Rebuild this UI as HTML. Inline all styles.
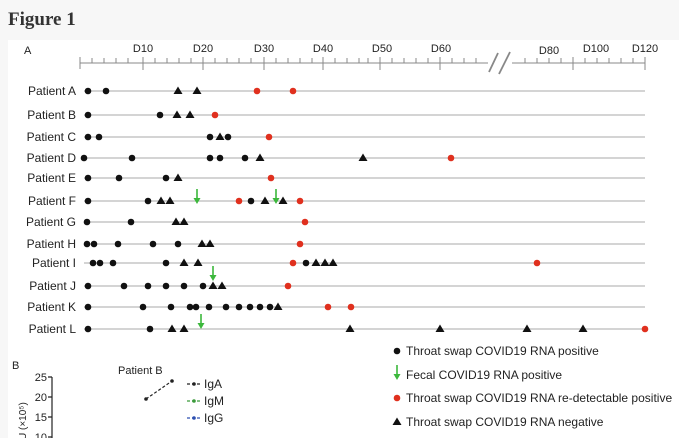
<!DOCTYPE html>
<html><head><meta charset="utf-8"><style>
html,body{margin:0;padding:0;background:#f7f7f7;}
svg{display:block;font-family:"Liberation Sans",Arial,sans-serif;}
</style></head><body>
<svg width="679" height="438" viewBox="0 0 679 438" xmlns="http://www.w3.org/2000/svg">
<defs>
<g id="c"><circle r="3.3" fill="#111"/></g>
<g id="r"><circle r="3.3" fill="#e0301e"/></g>
<g id="t"><polygon points="0,-4.5 4.5,3 -4.5,3" fill="#111"/></g>
<g id="a"><line x1="0" y1="-16" x2="0" y2="-3" stroke="#3cb83c" stroke-width="1.6"/><polygon points="-3.5,-7 3.5,-7 0,-1" fill="#3cb83c"/></g>
</defs>
<text x="8" y="25" font-family="Liberation Serif,serif" font-weight="bold" font-size="19" fill="#333">Figure 1</text>
<rect x="8" y="40" width="671" height="398" fill="#fff"/>
<text x="24" y="54" font-size="11" fill="#222">A</text>
<g font-size="11" fill="#222" text-anchor="middle">
<text x="143" y="52">D10</text><text x="203" y="52">D20</text><text x="264" y="52">D30</text><text x="323" y="52">D40</text><text x="382" y="52">D50</text><text x="441" y="52">D60</text><text x="549" y="54">D80</text><text x="596" y="52">D100</text><text x="645" y="52">D120</text>
</g>
<g stroke="#888" stroke-width="1">
<line x1="80" y1="63" x2="488" y2="63"/><line x1="512" y1="63" x2="645" y2="63"/>
<path d="M80,57V69 M143,57V70 M203,57V70 M264,57V70 M323,57V70 M380,57V70 M440,57V70 M573,57V70 M645,57V70"/>
<path d="M92,58V63 M104,58V63 M116,58V63 M128,58V63 M155,58V63 M167,58V63 M179,58V63 M191,58V63 M215,58V63 M227,58V63 M239,58V63 M251,58V63 M276,58V63 M288,58V63 M300,58V63 M312,58V63 M335,58V63 M347,58V63 M359,58V63 M368,58V63 M392,58V63 M404,58V63 M416,58V63 M428,58V63 M452,58V63 M464,58V63 M476,58V63 M525,58V63 M537,58V63 M549,58V63 M561,58V63 M585,58V63 M597,58V63 M609,58V63 M621,58V63 M633,58V63"/>
<line x1="489" y1="72" x2="498" y2="53" stroke-width="1.8"/><line x1="499" y1="74" x2="510" y2="52" stroke-width="1.8"/>
</g>
<g font-size="12" fill="#222" text-anchor="end">
<text x="76" y="95">Patient A</text><text x="76" y="119">Patient B</text><text x="76" y="141">Patient C</text><text x="76" y="162">Patient D</text><text x="76" y="182">Patient E</text><text x="76" y="205">Patient F</text><text x="76" y="226">Patient G</text><text x="76" y="248">Patient H</text><text x="76" y="267">Patient I</text><text x="76" y="290">Patient J</text><text x="76" y="311">Patient K</text><text x="76" y="333">Patient L</text>
</g>
<g stroke="#bbb" stroke-width="1.3">
<line x1="84" y1="91" x2="645" y2="91"/><line x1="84" y1="115" x2="645" y2="115"/><line x1="84" y1="137" x2="645" y2="137"/><line x1="84" y1="158" x2="645" y2="158"/><line x1="84" y1="178" x2="645" y2="178"/><line x1="84" y1="201" x2="645" y2="201"/><line x1="84" y1="222" x2="645" y2="222"/><line x1="84" y1="244" x2="645" y2="244"/><line x1="84" y1="263" x2="645" y2="263"/><line x1="84" y1="286" x2="645" y2="286"/><line x1="84" y1="307" x2="645" y2="307"/><line x1="84" y1="329" x2="645" y2="329"/>
</g>
<use href="#c" x="88" y="91"/><use href="#c" x="106" y="91"/><use href="#t" x="178" y="91"/><use href="#t" x="197" y="91"/><use href="#r" x="257" y="91"/><use href="#r" x="293" y="91"/>
<use href="#c" x="88" y="115"/><use href="#c" x="160" y="115"/><use href="#t" x="177" y="115"/><use href="#t" x="190" y="115"/><use href="#r" x="215" y="115"/>
<use href="#c" x="88" y="137"/><use href="#c" x="99" y="137"/><use href="#c" x="210" y="137"/><use href="#t" x="220" y="137"/><use href="#c" x="228" y="137"/><use href="#r" x="269" y="137"/>
<use href="#c" x="84" y="158"/><use href="#c" x="132" y="158"/><use href="#c" x="210" y="158"/><use href="#c" x="220" y="158"/><use href="#c" x="245" y="158"/><use href="#t" x="260" y="158"/><use href="#t" x="363" y="158"/><use href="#r" x="451" y="158"/>
<use href="#c" x="88" y="178"/><use href="#c" x="119" y="178"/><use href="#c" x="166" y="178"/><use href="#t" x="178" y="178"/><use href="#r" x="271" y="178"/>
<use href="#c" x="88" y="201"/><use href="#c" x="148" y="201"/><use href="#t" x="161" y="201"/><use href="#t" x="170" y="201"/><use href="#a" x="197" y="205"/><use href="#r" x="239" y="201"/><use href="#c" x="251" y="201"/><use href="#t" x="265" y="201"/><use href="#a" x="276" y="205"/><use href="#t" x="283" y="201"/><use href="#r" x="300" y="201"/>
<use href="#c" x="87" y="222"/><use href="#c" x="131" y="222"/><use href="#t" x="176" y="222"/><use href="#t" x="184" y="222"/><use href="#r" x="305" y="222"/>
<use href="#c" x="87" y="244"/><use href="#c" x="94" y="244"/><use href="#c" x="118" y="244"/><use href="#c" x="153" y="244"/><use href="#c" x="178" y="244"/><use href="#t" x="202" y="244"/><use href="#t" x="210" y="244"/><use href="#r" x="300" y="244"/>
<use href="#c" x="93" y="263"/><use href="#c" x="100" y="263"/><use href="#c" x="113" y="263"/><use href="#c" x="166" y="263"/><use href="#t" x="184" y="263"/><use href="#t" x="198" y="263"/><use href="#r" x="293" y="263"/><use href="#c" x="306" y="263"/><use href="#t" x="316" y="263"/><use href="#t" x="325" y="263"/><use href="#t" x="333" y="263"/><use href="#r" x="537" y="263"/>
<use href="#c" x="88" y="286"/><use href="#c" x="124" y="286"/><use href="#c" x="148" y="286"/><use href="#c" x="166" y="286"/><use href="#c" x="184" y="286"/><use href="#c" x="203" y="286"/><use href="#a" x="213" y="282"/><use href="#t" x="213" y="286"/><use href="#t" x="222" y="286"/><use href="#r" x="288" y="286"/>
<use href="#c" x="88" y="307"/><use href="#c" x="143" y="307"/><use href="#c" x="171" y="307"/><use href="#c" x="190" y="307"/><use href="#c" x="196" y="307"/><use href="#c" x="209" y="307"/><use href="#c" x="226" y="307"/><use href="#c" x="239" y="307"/><use href="#c" x="250" y="307"/><use href="#c" x="260" y="307"/><use href="#c" x="270" y="307"/><use href="#t" x="278" y="307"/><use href="#r" x="328" y="307"/><use href="#r" x="351" y="307"/>
<use href="#c" x="88" y="329"/><use href="#c" x="150" y="329"/><use href="#t" x="172" y="329"/><use href="#t" x="184" y="329"/><use href="#a" x="201" y="330"/><use href="#t" x="350" y="329"/><use href="#t" x="440" y="329"/><use href="#t" x="527" y="329"/><use href="#t" x="583" y="329"/><use href="#r" x="645" y="329"/>
<g font-size="12" fill="#222">
<use href="#c" x="397" y="351"/><text x="406" y="355">Throat swap COVID19 RNA positive</text>
<use href="#a" x="397" y="381"/><text x="406" y="379">Fecal COVID19 RNA positive</text>
<use href="#r" x="397" y="398"/><text x="406" y="402">Throat swap COVID19 RNA re-detectable positive</text>
<use href="#t" x="397" y="422"/><text x="406" y="426">Throat swap COVID19 RNA negative</text>
</g>
<g font-size="11" fill="#222">
<text x="12" y="369">B</text>
<text x="118" y="374">Patient B</text>
<g text-anchor="end"><text x="47" y="381">25</text><text x="47" y="401">20</text><text x="47" y="421">15</text><text x="47" y="441">10</text></g>
<text transform="translate(26,440) rotate(-90)" font-size="10">U (×10⁵)</text>
</g>
<g stroke="#222" stroke-width="1.2"><line x1="52" y1="377" x2="52" y2="438"/><path d="M48,377H52 M48,397H52 M48,417H52 M48,437H52"/></g>
<line x1="146" y1="399" x2="172" y2="381" stroke="#222" stroke-width="1.2" stroke-dasharray="3,2"/>
<circle cx="146" cy="399" r="1.8" fill="#222"/><circle cx="172" cy="381" r="1.8" fill="#222"/>
<g stroke-dasharray="3,2" stroke-width="1.2"><line x1="187" y1="384" x2="201" y2="384" stroke="#222"/><line x1="187" y1="401" x2="201" y2="401" stroke="#3a9a3a"/><line x1="187" y1="418" x2="201" y2="418" stroke="#2d4fb0"/></g>
<circle cx="194" cy="384" r="1.8" fill="#222"/><circle cx="194" cy="401" r="1.8" fill="#3a9a3a"/><circle cx="194" cy="418" r="1.8" fill="#2d4fb0"/>
<g font-size="12" fill="#222"><text x="204" y="388">IgA</text><text x="204" y="405">IgM</text><text x="204" y="422">IgG</text></g>
</svg>
</body></html>
